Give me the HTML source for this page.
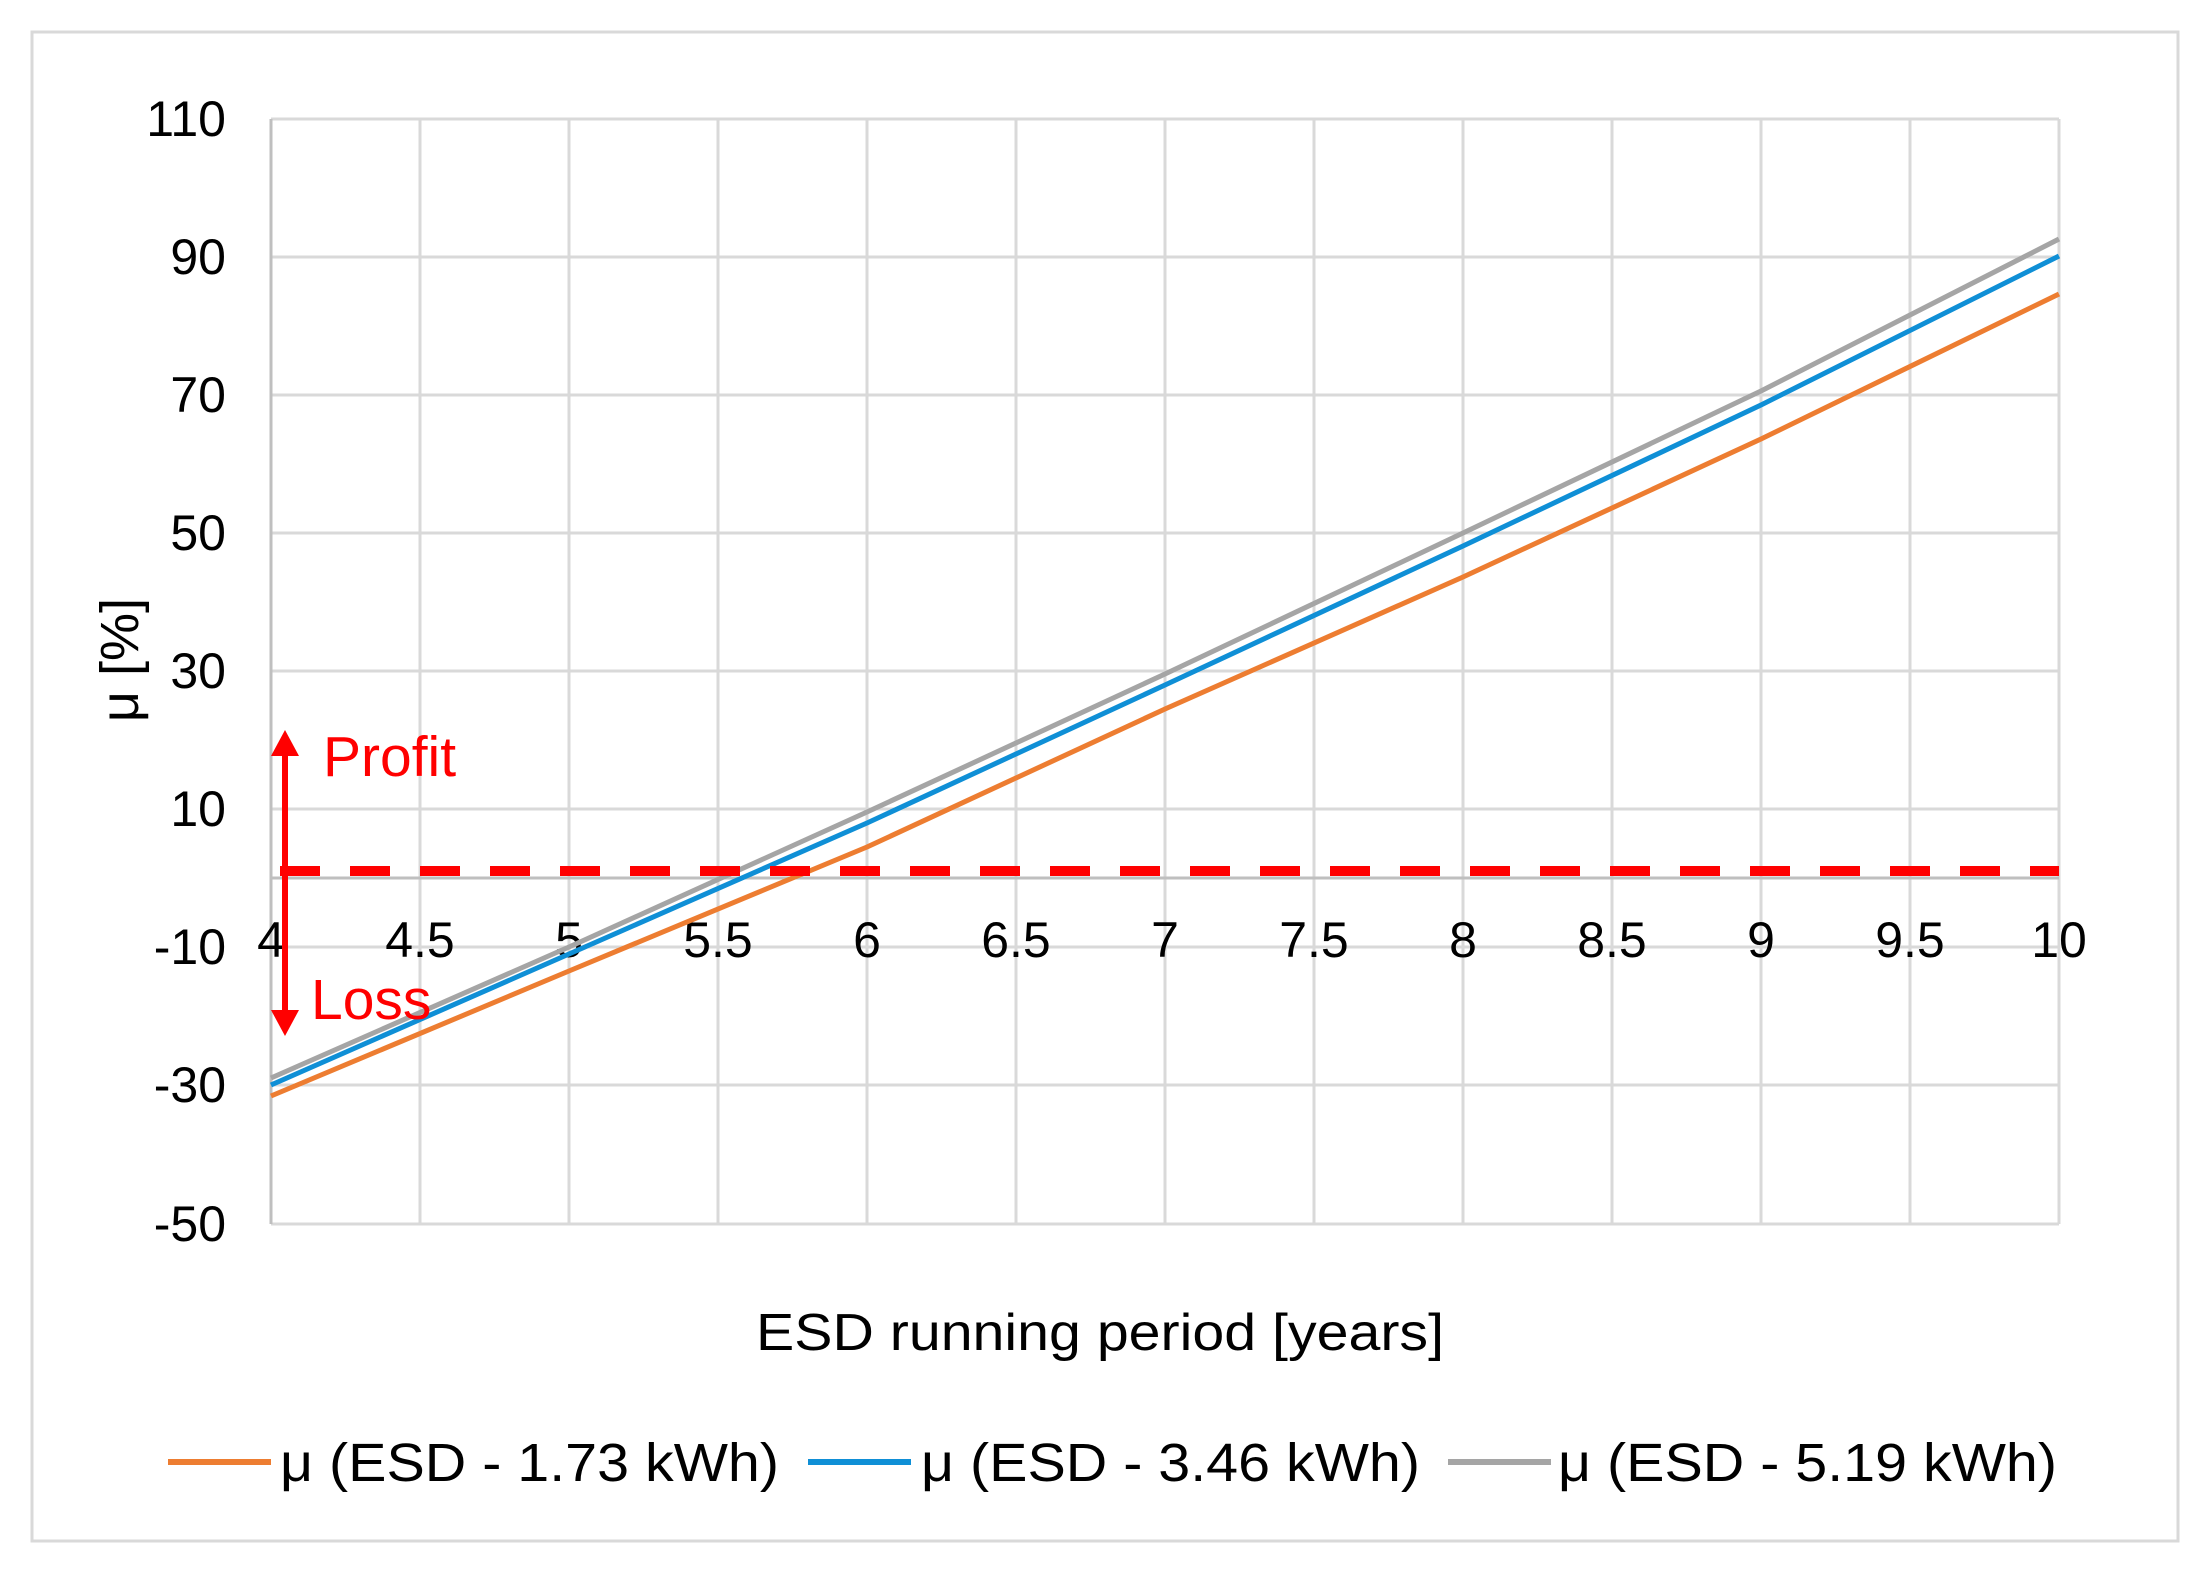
<!DOCTYPE html>
<html><head><meta charset="utf-8"><style>html,body{margin:0;padding:0;background:#fff}svg{display:block}</style></head>
<body>
<svg width="2204" height="1574" viewBox="0 0 2204 1574" xmlns="http://www.w3.org/2000/svg" font-family="'Liberation Sans', 'Noto Sans CJK JP', sans-serif">
<rect x="0" y="0" width="2204" height="1574" fill="#fff"/>
<rect x="32" y="32" width="2146" height="1509" fill="none" stroke="#d9d9d9" stroke-width="3"/>
<g stroke="#d9d9d9" stroke-width="3">
<line x1="271" y1="119" x2="2059" y2="119"/>
<line x1="271" y1="257" x2="2059" y2="257"/>
<line x1="271" y1="395" x2="2059" y2="395"/>
<line x1="271" y1="533" x2="2059" y2="533"/>
<line x1="271" y1="671" x2="2059" y2="671"/>
<line x1="271" y1="809" x2="2059" y2="809"/>
<line x1="271" y1="947" x2="2059" y2="947"/>
<line x1="271" y1="1085" x2="2059" y2="1085"/>
<line x1="271" y1="1224" x2="2059" y2="1224"/>
<line x1="420" y1="119" x2="420" y2="1224"/>
<line x1="569" y1="119" x2="569" y2="1224"/>
<line x1="718" y1="119" x2="718" y2="1224"/>
<line x1="867" y1="119" x2="867" y2="1224"/>
<line x1="1016" y1="119" x2="1016" y2="1224"/>
<line x1="1165" y1="119" x2="1165" y2="1224"/>
<line x1="1314" y1="119" x2="1314" y2="1224"/>
<line x1="1463" y1="119" x2="1463" y2="1224"/>
<line x1="1612" y1="119" x2="1612" y2="1224"/>
<line x1="1761" y1="119" x2="1761" y2="1224"/>
<line x1="1910" y1="119" x2="1910" y2="1224"/>
<line x1="2059" y1="119" x2="2059" y2="1224"/>
</g>
<line x1="271" y1="119" x2="271" y2="1224" stroke="#bfbfbf" stroke-width="3"/>
<line x1="271" y1="878" x2="2059" y2="878" stroke="#bfbfbf" stroke-width="3"/>
<g font-size="50" fill="#000" text-anchor="end">
<text x="226" y="136">110</text>
<text x="226" y="274">90</text>
<text x="226" y="412">70</text>
<text x="226" y="550">50</text>
<text x="226" y="688">30</text>
<text x="226" y="826">10</text>
<text x="226" y="964">-10</text>
<text x="226" y="1102">-30</text>
<text x="226" y="1241">-50</text>
</g>
<g font-size="50" fill="#000" text-anchor="middle">
<text x="271" y="957">4</text>
<text x="420" y="957">4.5</text>
<text x="569" y="957">5</text>
<text x="718" y="957">5.5</text>
<text x="867" y="957">6</text>
<text x="1016" y="957">6.5</text>
<text x="1165" y="957">7</text>
<text x="1314" y="957">7.5</text>
<text x="1463" y="957">8</text>
<text x="1612" y="957">8.5</text>
<text x="1761" y="957">9</text>
<text x="1910" y="957">9.5</text>
<text x="2059" y="957">10</text>
</g>
<g fill="none" stroke-width="5" stroke-linejoin="round">
<polyline stroke="#ed7d31" points="271,1096 569,971 867,847 1165,709 1463,577 1761,439 2059,294"/>
<polyline stroke="#a5a5a5" points="271,1078 569,947 867,812 1165,674 1463,533 1761,391 2059,239"/>
<polyline stroke="#0f8fd6" points="271,1085 569,954 867,823 1165,685 1463,546 1761,405 2059,256"/>
</g>
<line x1="280" y1="871" x2="2059" y2="871" stroke="#ff0000" stroke-width="10" stroke-dasharray="40,30"/>
<line x1="285" y1="752" x2="285" y2="1018" stroke="#ff0000" stroke-width="6"/>
<polygon points="285,730 271,756 299,756" fill="#ff0000"/>
<polygon points="285,1036 271,1010 299,1010" fill="#ff0000"/>
<text x="323" y="776" font-size="57" fill="#ff0000">Profit</text>
<text x="311" y="1019" font-size="57" fill="#ff0000">Loss</text>
<text transform="translate(138,660) rotate(-90)" font-size="54" text-anchor="middle" fill="#000">μ [%]</text>
<text x="756" y="1350" font-size="52" fill="#000" textLength="688" lengthAdjust="spacingAndGlyphs">ESD running  period [years]</text>
<g stroke-width="6">
<line x1="168" y1="1462" x2="271" y2="1462" stroke="#ed7d31"/>
<line x1="808" y1="1462" x2="911" y2="1462" stroke="#0f8fd6"/>
<line x1="1448" y1="1462" x2="1551" y2="1462" stroke="#a5a5a5"/>
</g>
<g font-size="54" fill="#000">
<text x="280" y="1481" textLength="499" lengthAdjust="spacingAndGlyphs">μ (ESD - 1.73 kWh)</text>
<text x="921" y="1481" textLength="499" lengthAdjust="spacingAndGlyphs">μ (ESD - 3.46 kWh)</text>
<text x="1558" y="1481" textLength="499" lengthAdjust="spacingAndGlyphs">μ (ESD - 5.19 kWh)</text>
</g>
</svg>
</body></html>
